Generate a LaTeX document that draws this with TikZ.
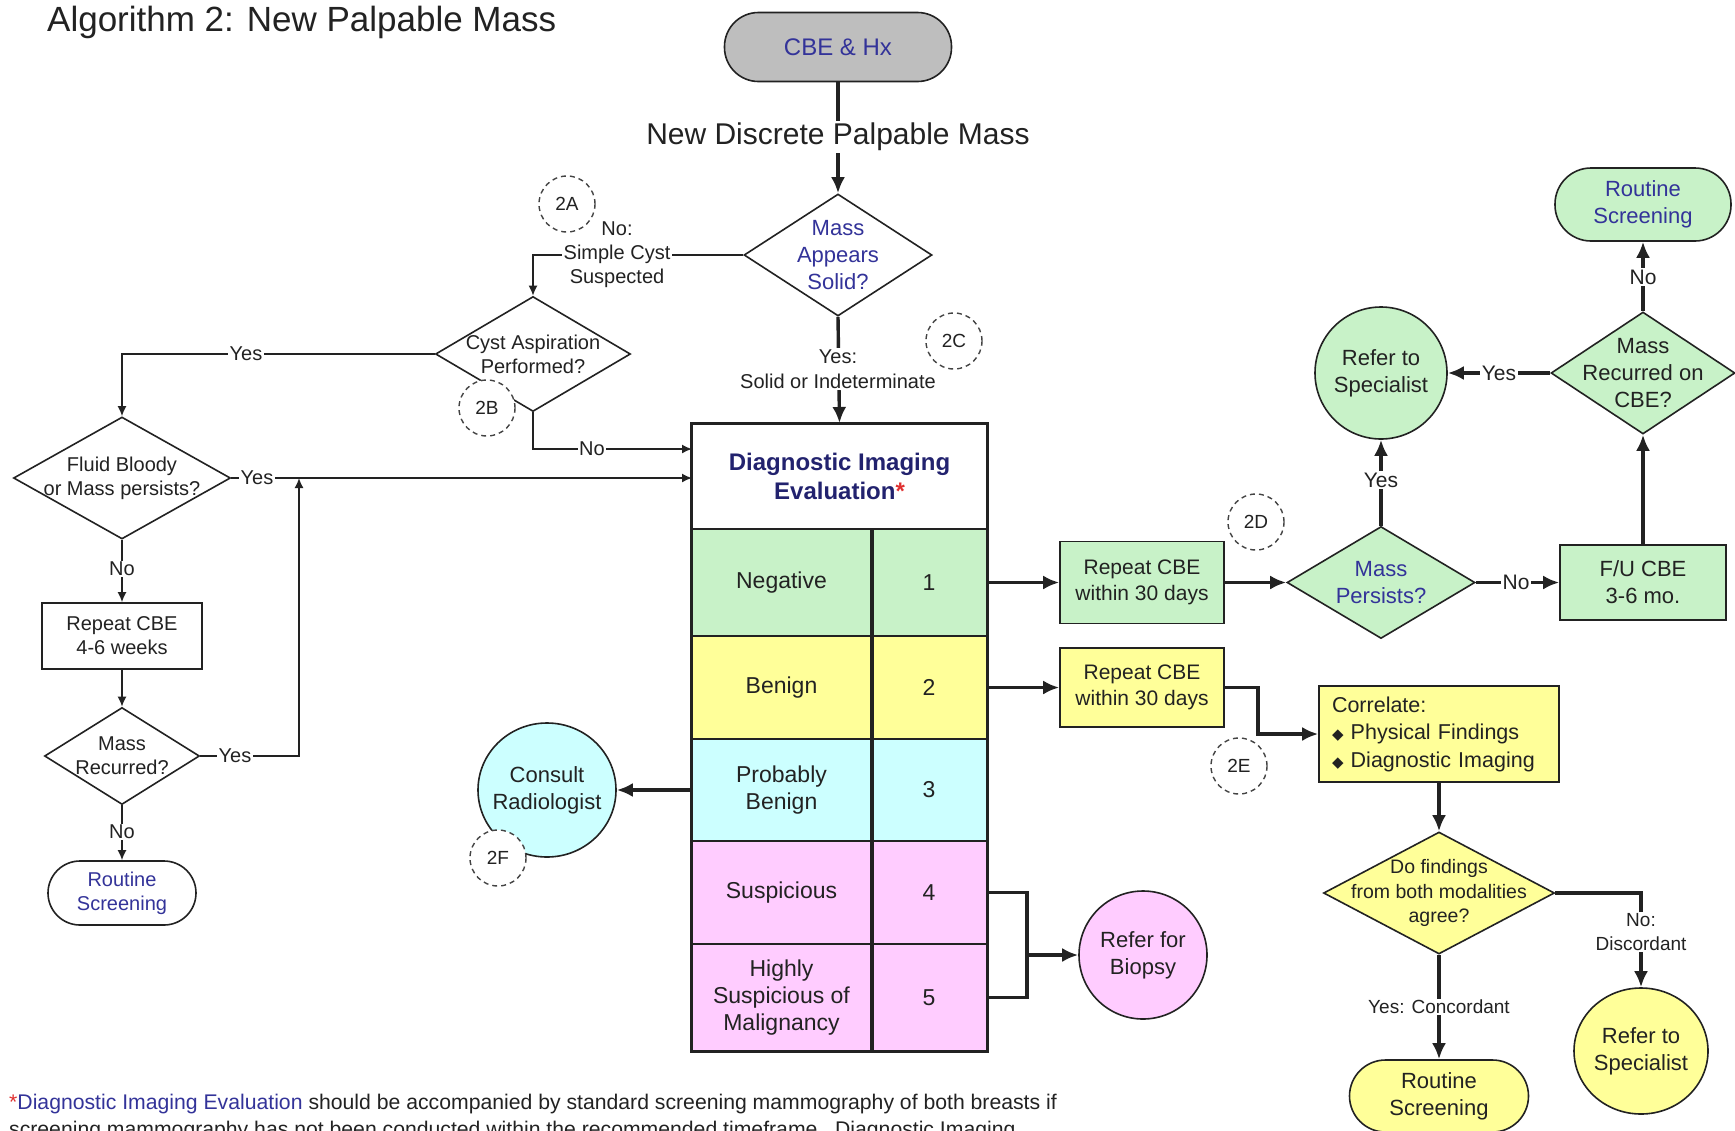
\documentclass[tikz,border=0pt]{standalone}
\usepackage{fontspec}
\setmainfont{Liberation Sans}
\newfontfamily\dejavu{DejaVu Sans}
\usetikzlibrary{shapes.geometric,arrows.meta}
\definecolor{ink}{HTML}{222222}
\definecolor{cgreen}{HTML}{C8F2C8}
\definecolor{cyellow}{HTML}{FFFF99}
\definecolor{ccyan}{HTML}{CCFFFF}
\definecolor{cpink}{HTML}{FFCCFF}
\definecolor{cgray}{HTML}{BEBEBE}
\definecolor{tblue}{HTML}{333399}
\definecolor{tnavy}{HTML}{22226E}
\definecolor{tred}{HTML}{E03030}
\newcommand{\fsz}[2]{\fontsize{#1}{#2}\selectfont}
\newcommand{\dbul}{{\dejavu\fsz{15}{15}\char"25C6}}
\begin{document}
\begin{tikzpicture}[x=1pt,y=-1pt,
  every node/.style={text=ink},
  thinln/.style={draw=ink, line width=1.6},
  boldln/.style={draw=ink, line width=3.4},
  sarr/.style={-{Latex[length=10,width=9]}},
  barr/.style={-{Latex[length=16,width=14]}},
  box/.style={rectangle, draw=ink, line width=1.6, inner sep=0, align=center},
  dia/.style={diamond, draw=ink, line width=1.6, inner sep=0},
  circ/.style={ellipse, draw=ink, line width=1.6, inner sep=0},
  cell/.style={rectangle, draw=ink, line width=1.6, inner sep=0, align=center, font=\fsz{23}{27}},
  tag/.style={circle, draw=ink!85, fill=white, dash pattern=on 5 off 4, line width=1.4, minimum size=56, inner sep=0, font=\fsz{19}{22}},
  lbl/.style={fill=white, inner sep=1.5, align=center, text=ink, font=\fsz{20}{24}},
  txt/.style={align=center, text=ink},
]
\useasboundingbox (0,0) rectangle (1735,1130);
\fill[white] (0,0) rectangle (1735,1130);
\clip (0,0) rectangle (1735,1130);

% title
\node[anchor=base west, font=\fsz{35}{40}, inner sep=0] (title) at (47,31) {Algorithm 2: New Palpable Mass};

% top of chart
\node[box, fill=cgray, rounded corners=34, minimum width=227, minimum height=69, font=\fsz{24}{28}, text=tblue] (cbe) at (838,47) {CBE \& Hx};
\node[dia, fill=white, minimum width=188, minimum height=122] (mas) at (838,255) {};
\node[txt, text=tblue, font=\fsz{22}{27}] (masT) at (mas) {Mass\\Appears\\Solid?};

% left branch
\node[dia, fill=white, minimum width=195, minimum height=115] (cyst) at (533,354) {};
\node[txt, font=\fsz{20}{24}] (cystT) at (cyst) {Cyst Aspiration\\Performed?};
\node[dia, fill=white, minimum width=217, minimum height=122] (fluid) at (122,478) {};
\node[txt, font=\fsz{20}{24}] (fluidT) at (fluid) {Fluid Bloody\\or Mass persists?};
\node[box, fill=white, minimum width=160, minimum height=66, font=\fsz{20}{24}] (rep46) at (122,636) {Repeat CBE\\4-6 weeks};
\node[dia, fill=white, minimum width=155, minimum height=97] (mrec) at (122,756) {};
\node[txt, font=\fsz{20}{24}] (mrecT) at (mrec) {Mass\\Recurred?};
\node[box, fill=white, rounded corners=32, minimum width=148, minimum height=64, font=\fsz{20}{24}, text=tblue] (rsw) at (122,893) {Routine\\Screening};

% diagnostic imaging table
\node[box, fill=white, line width=2, minimum width=295, minimum height=105, font=\fsz{24}{29}\bfseries, text=tnavy] (die) at (839.5,476.5) {Diagnostic Imaging\\Evaluation\textcolor{tred}{*}};
\node[cell, fill=cgreen, minimum width=179, minimum height=107] (n1) at (781.5,582.5) {Negative};
\node[cell, fill=cgreen, minimum width=116, minimum height=107] (v1) at (929,582.5) {1};
\node[cell, fill=cyellow, minimum width=179, minimum height=103] (n2) at (781.5,687.5) {Benign};
\node[cell, fill=cyellow, minimum width=116, minimum height=103] (v2) at (929,687.5) {2};
\node[cell, fill=ccyan, minimum width=179, minimum height=102] (n3) at (781.5,790) {Probably\\Benign};
\node[cell, fill=ccyan, minimum width=116, minimum height=102] (v3) at (929,790) {3};
\node[cell, fill=cpink, minimum width=179, minimum height=103] (n4) at (781.5,892.5) {Suspicious};
\node[cell, fill=cpink, minimum width=116, minimum height=103] (v4) at (929,892.5) {4};
\node[cell, fill=cpink, minimum width=179, minimum height=107] (n5) at (781.5,997.5) {Highly\\Suspicious of\\Malignancy};
\node[cell, fill=cpink, minimum width=116, minimum height=107] (v5) at (929,997.5) {5};
\draw[draw=ink, line width=3.4] (n1.north east) -- (n5.south east);
\draw[draw=ink, line width=2.2] (die.north west) rectangle (v5.south east);

% right, green branch
\node[box, fill=cgreen, minimum width=164, minimum height=82, font=\fsz{21}{26}] (rg) at (1142,582.5) {Repeat CBE\\within 30 days};
\node[dia, fill=cgreen, minimum width=188, minimum height=112] (mp) at (1381,582.5) {};
\node[txt, text=tblue, font=\fsz{22}{27}] (mpT) at (mp) {Mass\\Persists?};
\node[box, fill=cgreen, minimum width=166, minimum height=75, font=\fsz{22}{27}] (fu) at (1643,582.5) {F/U CBE\\3-6 mo.};
\node[dia, fill=cgreen, minimum width=184, minimum height=122] (mrc) at (1643,373) {};
\node[txt, font=\fsz{22}{27}] (mrcT) at (mrc) {Mass\\Recurred on\\CBE?};
\node[box, fill=cgreen, rounded corners=36, minimum width=176, minimum height=73, font=\fsz{22}{27}, text=tblue] (rsg) at (1643,204.5) {Routine\\Screening};
\node[circ, fill=cgreen, minimum width=132, minimum height=132] (rts) at (1381,373) {};
\node[txt, font=\fsz{22}{27}] (rtsT) at (rts) {Refer to\\Specialist};

% right, yellow branch
\node[box, fill=cyellow, minimum width=164, minimum height=79, font=\fsz{21}{26}] (ry) at (1142,687.5) {Repeat CBE\\within 30 days};
\node[box, fill=cyellow, minimum width=240, minimum height=96, font=\fsz{21.5}{27.5}, align=left, text width=214] (corr) at (1439,734) {\hyphenpenalty=10000 Correlate:\\\dbul\ Physical Findings\\\dbul\ Diagnostic Imaging};
\node[dia, fill=cyellow, minimum width=231, minimum height=122] (df) at (1439,893) {};
\node[txt, font=\fsz{19.5}{24.5}] (dfT) at (df) {Do findings\\from both modalities\\agree?};
\node[circ, fill=cyellow, minimum width=134, minimum height=126] (rty) at (1641,1051) {};
\node[txt, font=\fsz{22}{27}] (rtyT) at (rty) {Refer to\\Specialist};
\node[box, fill=cyellow, rounded corners=36, minimum width=179, minimum height=72, font=\fsz{22}{27}] (rsy) at (1439,1096) {Routine\\Screening};

% consult and biopsy
\node[circ, fill=ccyan, minimum width=138, minimum height=134] (cr) at (547,790) {};
\node[txt, font=\fsz{22}{27}] (crT) at (cr) {Consult\\Radiologist};
\node[circ, fill=cpink, minimum width=128, minimum height=128] (rb) at (1143,955) {};
\node[txt, font=\fsz{22}{27}] (rbT) at (rb) {Refer for\\Biopsy};

% helper coordinates
\coordinate (inNo) at (692,449);
\coordinate (inYes) at (692,478);
\coordinate (join) at (299,478);
\coordinate (bj) at (1027,955);

% connectors (thin, left)
\draw[thinln, sarr] (mas.west) -| (cyst.north);
\draw[thinln, sarr] (cyst.west) -| (fluid.north);
\draw[thinln, sarr] (cyst.south) |- (inNo);
\draw[thinln, sarr] (fluid.east) -- (inYes);
\draw[thinln, sarr] (fluid.south) -- (rep46.north);
\draw[thinln, sarr] (rep46.south) -- (mrec.north);
\draw[thinln, sarr] (mrec.east) -| (join);
\draw[thinln, sarr] (mrec.south) -- (rsw.north);

% connectors (bold)
\draw[boldln, barr] (cbe.south) -- (mas.north);
\draw[boldln, barr] (mas.south) -- (die.north);
\draw[boldln, barr] (v1.east) -- (rg.west);
\draw[boldln, barr] (rg.east) -- (mp.west);
\draw[boldln, barr] (mp.east) -- (fu.west);
\draw[boldln, barr] (fu.north) -- (mrc.south);
\draw[boldln, barr] (mrc.north) -- (rsg.south);
\draw[boldln, barr] (mrc.west) -- (rts.east);
\draw[boldln, barr] (mp.north) -- (rts.south);
\draw[boldln, barr] (v2.east) -- (ry.west);
\draw[boldln, barr] (ry.east) -- ++(33,0) |- (corr.west);
\draw[boldln, barr] (corr.south) -- (df.north);
\draw[boldln, barr] (df.south) -- (rsy.north);
\draw[boldln, barr] (df.east) -| (rty.north);
\draw[boldln, barr] (n3.west) -- (cr.east);
\draw[boldln] (v4.east) -| (bj) |- (v5.east);
\draw[boldln, barr] (bj) -- (rb.west);

% labels on lines
\node[fill=white, inner sep=2, font=\fsz{30}{34}] (ndpm) at (838,137) {New Discrete Palpable Mass};
\node[lbl, font=\fsz{20}{25}] (lyes1) at (838,369) {Yes:\\Solid or Indeterminate};
\node[lbl] (lno1) at (617,255) {No:\\Simple Cyst\\Suspected};
\node[lbl] (lyes2) at (246,354) {Yes};
\node[lbl] (lno2) at (592,449) {No};
\node[lbl] (lyes3) at (257,478) {Yes};
\node[lbl] (lno3) at (122,569) {No};
\node[lbl] (lyes4) at (235,756) {Yes};
\node[lbl] (lno4) at (122,832) {No};
\node[lbl, font=\fsz{21}{25}] (lno5) at (1516,582.5) {No};
\node[lbl, font=\fsz{21}{25}] (lno6) at (1643,277) {No};
\node[lbl, font=\fsz{21}{25}] (lyes5) at (1499,373) {Yes};
\node[lbl, font=\fsz{21}{25}] (lyes6) at (1381,480) {Yes};
\node[lbl, font=\fsz{19}{24}] (lno7) at (1641,932) {No:\\Discordant};
\node[lbl, font=\fsz{19}{24}] (lyes7) at (1439,1007) {Yes: Concordant};

% reference tags
\node[tag] (t2a) at (567,204) {2A};
\node[tag] (t2b) at (487,408) {2B};
\node[tag] (t2c) at (954,341) {2C};
\node[tag] (t2d) at (1256,522) {2D};
\node[tag] (t2e) at (1239,766) {2E};
\node[tag] (t2f) at (498,858) {2F};

% footnote
\node[anchor=base west, inner sep=0, font=\fsz{21.2}{26}] (fn1) at (9,1109) {\textcolor{tred}{*}\textcolor{tblue}{Diagnostic Imaging Evaluation} should be accompanied by standard screening mammography of both breasts if};
\node[anchor=base west, inner sep=0, font=\fsz{21.2}{26}] (fn2) at (9,1136) {screening mammography has not been conducted within the recommended timeframe.\ \ Diagnostic Imaging};
\end{tikzpicture}
\end{document}
